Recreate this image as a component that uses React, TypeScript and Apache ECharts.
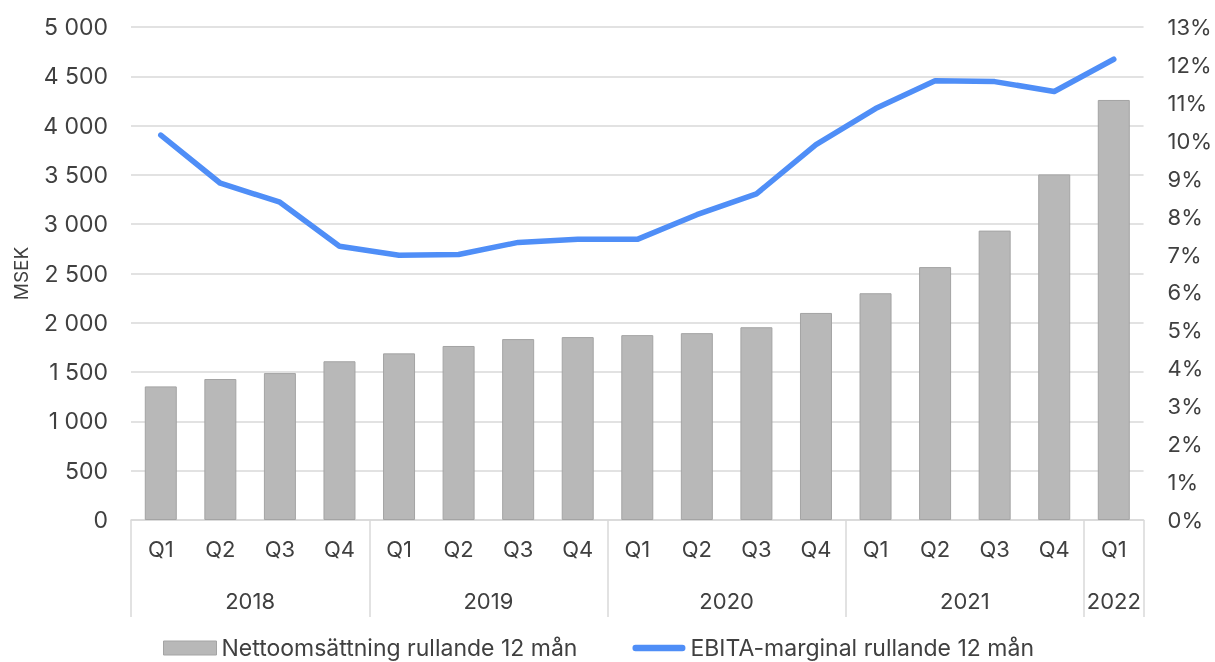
import React, { useEffect, useRef } from "react";
import * as echarts from "echarts";

const quarters = ["Q1", "Q2", "Q3", "Q4", "Q1", "Q2", "Q3", "Q4", "Q1", "Q2", "Q3", "Q4", "Q1", "Q2", "Q3", "Q4", "Q1"];
const years = ["2018", "2019", "2020", "2021", "2022"];
const yearLabelPositions = [2, 6, 10, 14, 16.5];
const yearBoundaries = [0, 4, 8, 12, 16, 17];
const netSales = [1355, 1430, 1490, 1610, 1690, 1765, 1835, 1855, 1875, 1895, 1955, 2100, 2300, 2565, 2935, 3505, 4260];
const ebitaMargin = [10.15, 8.88, 8.38, 7.22, 6.98, 7.0, 7.32, 7.4, 7.4, 8.05, 8.6, 9.9, 10.85, 11.58, 11.56, 11.3, 12.15];

const FONT = "Inter";
const TEXT = "#404040";
const GRID = "#d9d9d9";
const BLUE = "#4f8ef7";

export default function App() {
  const ref = useRef<HTMLDivElement>(null);
  useEffect(() => {
    if (!ref.current) return;
    const chart = echarts.init(ref.current, undefined, { renderer: "svg" });
    chart.setOption({
      animation: false,
      textStyle: { fontFamily: FONT, color: TEXT },
      grid: { left: 131, right: 67, top: 27, bottom: 142, containLabel: false },
      legend: {
        left: 163,
        top: 636,
        padding: 0,
        itemGap: 55,
        itemWidth: 53,
        itemHeight: 14,
        symbolKeepAspect: true,
        textStyle: { fontFamily: FONT, fontSize: 23, color: TEXT, lineHeight: 24 },
        data: [
          { name: "Nettoomsättning rullande 12 mån", icon: "rect", itemStyle: { color: "#b8b8b8", borderColor: "#a4a4a4", borderWidth: 1 } },
          {
            name: "EBITA-marginal rullande 12 mån",
            icon: "path://M3,0 L47,0 A3,3 0 0 1 47,6 L3,6 A3,3 0 0 1 3,0 Z",
            itemStyle: { color: BLUE, borderWidth: 0 },
          },
        ],
      },
      xAxis: [
        {
          type: "category",
          data: quarters,
          position: "bottom",
          axisLine: { show: true, lineStyle: { color: GRID, width: 1.5 } },
          axisTick: { show: false },
          axisLabel: { fontFamily: FONT, fontSize: 22, color: TEXT, margin: 18, interval: 0 },
        },
        {
          type: "value",
          min: 0,
          max: 17,
          position: "bottom",
          axisLine: { show: false },
          splitLine: { show: false },
          axisTick: {
            show: true,
            customValues: yearBoundaries,
            length: 97,
            lineStyle: { color: GRID, width: 1.5 },
          },
          axisLabel: {
            customValues: yearLabelPositions,
            fontFamily: FONT,
            fontSize: 22,
            color: TEXT,
            margin: 70,
            formatter: (v: number) => {
              const i = yearLabelPositions.indexOf(v);
              return i >= 0 ? years[i] : "";
            },
          },
        },
      ],
      yAxis: [
        {
          type: "value",
          min: 0,
          max: 5000,
          interval: 500,
          name: "MSEK",
          nameLocation: "middle",
          nameGap: 100,
          nameTextStyle: { fontFamily: FONT, fontSize: 19, color: TEXT },
          axisLine: { show: false },
          axisTick: { show: false },
          splitLine: { show: true, lineStyle: { color: GRID, width: 1.5 } },
          axisLabel: {
            fontFamily: FONT,
            fontSize: 23,
            color: TEXT,
            margin: 23,
            formatter: (v: number) => (v >= 1000 ? Math.floor(v / 1000) + " " + String(v % 1000).padStart(3, "0") : String(v)),
          },
        },
        {
          type: "value",
          min: 0,
          max: 13,
          interval: 1,
          position: "right",
          axisLine: { show: false },
          axisTick: { show: false },
          splitLine: { show: false },
          axisLabel: { fontFamily: FONT, fontSize: 22, color: TEXT, margin: 24, formatter: "{value}%" },
        },
      ],
      series: [
        {
          name: "Nettoomsättning rullande 12 mån",
          type: "bar",
          xAxisIndex: 0,
          yAxisIndex: 0,
          data: netSales,
          barWidth: 32,
          itemStyle: { color: "#b8b8b8", borderColor: "#a4a4a4", borderWidth: 1 },
        },
        {
          name: "EBITA-marginal rullande 12 mån",
          type: "line",
          xAxisIndex: 0,
          yAxisIndex: 1,
          data: ebitaMargin,
          symbol: "none",
          lineStyle: { color: BLUE, width: 5.5, cap: "round", join: "round" },
          itemStyle: { color: BLUE },
        },
      ],
    });
    return () => chart.dispose();
  }, []);
  return <div ref={ref} style={{ position: "fixed", left: 0, top: 0, width: 1215, height: 662 }} />;
}
